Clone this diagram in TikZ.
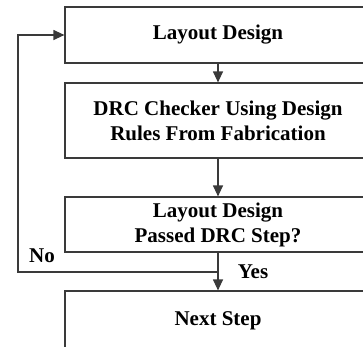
\documentclass[tikz,border=0pt]{standalone}
\usepackage{fontspec}
\setmainfont{Liberation Serif}
\usetikzlibrary{arrows.meta}
\definecolor{linegray}{HTML}{3A3A3A}
\tikzset{
  stepbox/.style={draw=linegray, line width=1.2pt, rectangle, minimum width=306pt,
    align=center, font=\fontsize{21}{25}\selectfont\bfseries, inner sep=0pt},
  flow/.style={draw=linegray, line width=1.2pt, -{Triangle[length=11pt,width=10pt]}},
  lbl/.style={font=\fontsize{21}{25}\selectfont\bfseries, inner sep=0pt}
}
\begin{document}
\begin{tikzpicture}[x=1pt, y=-1pt]
  \useasboundingbox (0,0) rectangle (363,346);
  \clip (0,0) rectangle (363,346);
  % process boxes
  \node[stepbox, minimum height=56pt] (layout) at (218,35) {Layout Design};
  \node[stepbox, minimum height=75pt] (drc) at (218,120.5) {DRC Checker Using Design\\Rules From Fabrication};
  \node[stepbox, minimum height=55pt] (check) at (218,224.5) {Layout Design\\Passed DRC Step?};
  \node[stepbox, minimum height=60pt] (next) at (218,321) {Next Step};
  % main flow
  \draw[flow] (layout.south) -- (drc.north);
  \draw[flow] (drc.south) -- (check.north);
  \draw[flow] (check.south) -- (next.north);
  % feedback loop on failure
  \coordinate (fork) at (218,272);
  \coordinate (turn) at (18,272);
  \draw[flow] (fork) -- (turn) |- (layout.west);
  % branch labels
  \node[lbl] (no) at (42,256) {No};
  \node[lbl] (yes) at (253,272) {Yes};
\end{tikzpicture}
\end{document}
